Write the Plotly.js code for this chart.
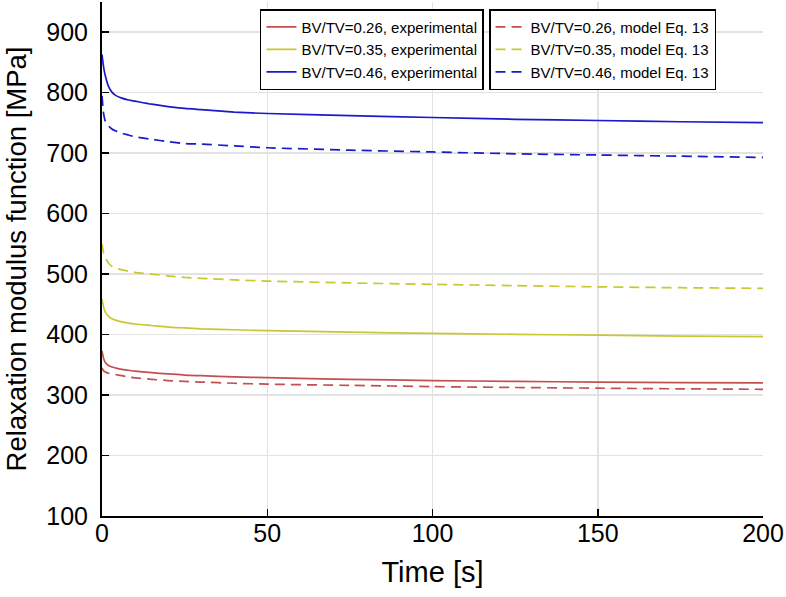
<!DOCTYPE html>
<html><head><meta charset="utf-8">
<script src="https://cdn.plot.ly/plotly-3.0.1.min.js"></script>
<style>html,body{margin:0;padding:0;background:#fff}#chart{width:786px;height:597px}</style>
</head><body><div id="chart"></div><script>
// Time points [s]
const timeS = [0, 0.5, 1, 2, 3, 4, 6, 8, 10, 15, 20, 25, 30, 40, 50, 75, 100, 125, 150, 175, 200];

// Experimental relaxation modulus [MPa]
const exp026 = [373, 360, 354, 349, 346.5, 345, 342.5, 341, 339.5, 337, 335, 333, 332, 330, 328.7, 326, 324, 322.5, 321.5, 320.5, 320];
const exp035 = [459, 445, 437, 430, 426, 424, 421, 419, 417.5, 415, 412.5, 411, 409.5, 408, 406.5, 404, 402, 400.5, 399, 397.5, 396.5];
const exp046 = [863, 842, 828, 810, 801, 796, 791, 788, 786, 781, 777, 774, 772, 768, 765.6, 762, 759, 756, 754, 752, 750.5];

// Model Eq. 13 [MPa]
const mod026 = [345, 340, 338, 336, 335, 334, 332, 330, 328.5, 326, 324, 322.5, 321.5, 319.5, 318, 316, 314, 312.5, 311.4, 310.3, 309.5];
const mod035 = [550, 535, 527, 518, 513, 510, 507, 505, 503, 500, 497, 494.5, 493, 490.5, 488.5, 485.5, 483, 481, 479, 477.5, 476.5];
const mod046 = [795, 765, 753, 745, 740, 737, 733, 730, 727, 723, 719, 716, 715, 712, 709, 705, 702, 699, 697, 695, 693];

const expNames = ['BV/TV=0.26, experimental', 'BV/TV=0.35, experimental', 'BV/TV=0.46, experimental'];
const modNames = ['BV/TV=0.26, model Eq. 13', 'BV/TV=0.35, model Eq. 13', 'BV/TV=0.46, model Eq. 13'];

const colors = ['#c44f4f', '#c8c832', '#1a1ac8'];
const FONT = 'Liberation Sans, Arial, Helvetica, sans-serif';

const expSeries = [exp026, exp035, exp046];
const modSeries = [mod026, mod035, mod046];

const traces = [];
expSeries.forEach((ys, i) => traces.push({
  x: timeS, y: ys, type: 'scatter', mode: 'lines', name: expNames[i],
  line: {color: colors[i], width: 1.7, shape: 'spline', smoothing: 0.6},
  legend: 'legend'
}));
modSeries.forEach((ys, i) => traces.push({
  x: timeS, y: ys, type: 'scatter', mode: 'lines', name: modNames[i],
  line: {color: colors[i], width: 1.7, dash: '10px,6px', shape: 'spline', smoothing: 0.6},
  legend: 'legend2'
}));

const legendCommon = {
  bgcolor: '#ffffff', bordercolor: '#000000', borderwidth: 1.5,
  font: {family: FONT, size: 15, color: '#000'},
  xanchor: 'left', yanchor: 'top', tracegroupgap: 0
};

const layout = {
  width: 786, height: 597,
  margin: {l: 102, r: 23, t: 2, b: 81},
  paper_bgcolor: '#ffffff', plot_bgcolor: '#ffffff',
  font: {family: FONT, color: '#000'},
  showlegend: true,
  legend: Object.assign({}, legendCommon, {x: 0.239, y: 0.986}),
  legend2: Object.assign({}, legendCommon, {x: 0.5855, y: 0.986}),
  xaxis: {
    range: [0, 200], dtick: 50, tick0: 0,
    ticks: 'inside', ticklen: 7, tickwidth: 1.5, tickcolor: '#000',
    showline: true, linecolor: '#000', linewidth: 2, mirror: false,
    showgrid: true, gridcolor: '#e2e2e2', gridwidth: 1.5, zeroline: false,
    tickfont: {family: FONT, size: 25, color: '#000'},
    ticklabelstandoff: -6,
    title: {text: 'Time [s]', font: {family: FONT, size: 29, color: '#000'}, standoff: 16}
  },
  yaxis: {
    range: [100, 950], dtick: 100, tick0: 0,
    ticks: 'inside', ticklen: 7, tickwidth: 1.5, tickcolor: '#000',
    showline: true, linecolor: '#000', linewidth: 2, mirror: false,
    showgrid: true, gridcolor: '#e2e2e2', gridwidth: 1.5, zeroline: false,
    tickfont: {family: FONT, size: 25, color: '#000'},
    ticklabelstandoff: 7,
    title: {text: 'Relaxation modulus function [MPa]', font: {family: FONT, size: 27.5, color: '#000'}, standoff: 12}
  }
};

Plotly.newPlot('chart', traces, layout, {displayModeBar: false, staticPlot: true});
</script></body></html>
